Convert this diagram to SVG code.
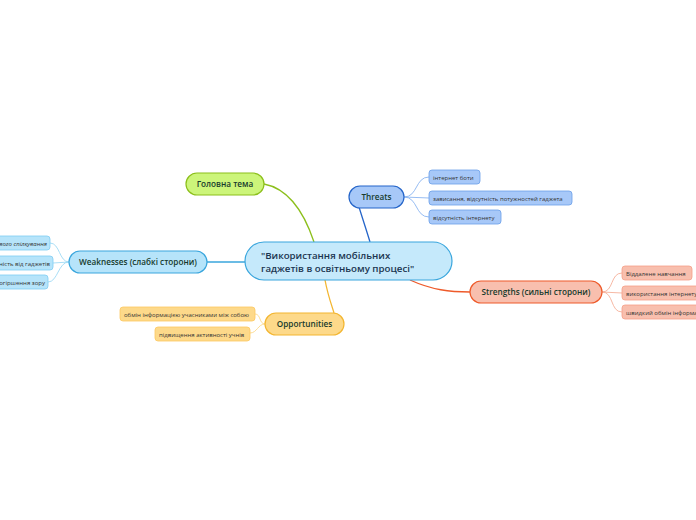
<svg xmlns="http://www.w3.org/2000/svg" width="696" height="520" viewBox="0 0 696 520">
<style>
text{font-family:"Open Sans","Noto Sans","DejaVu Sans",sans-serif}
.main{font-size:9.7px;font-weight:600;fill:#1b3550}
.br{font-size:8.2px;font-weight:600;fill:#163a2c;text-anchor:middle}
.ch{font-size:6px;fill:#333}
.c{fill:none;stroke-width:1.3}
.cs{fill:none;stroke-width:0.9}
</style>
<rect width="696" height="520" fill="#ffffff"/>
<g id="connectors">
<path class="c" stroke="#8cbf1b" d="M264,184 C290,189 305,215 314,242"/>
<path class="c" stroke="#2565c9" d="M359,207 C363,220 367,232 370,242"/>
<path class="c" stroke="#ee5a2a" d="M410,280 C432,290 450,292 470,292"/>
<path class="c" stroke="#f3b631" d="M325,280 C328,296 332,306 334,313"/>
<path class="c" stroke="#3aa6dd" d="M245,262 L207,262"/>
<g stroke="#8ab4f0">
<path class="cs" d="M404,197 C418,197 415,177 429,177"/>
<path class="cs" d="M404,197 L429,198"/>
<path class="cs" d="M404,197 C418,197 415,217 429,217"/>
</g>
<g stroke="#f5b09a">
<path class="cs" d="M602,292 C614,292 610,273 622,273"/>
<path class="cs" d="M602,292 L622,293"/>
<path class="cs" d="M602,292 C614,292 610,312 622,312"/>
</g>
<g stroke="#fcd98a">
<path class="cs" d="M265,324 C259,324 261,314 255,314"/>
<path class="cs" d="M265,324 C258,324 257,333 250,333"/>
</g>
<g stroke="#9fdaf5">
<path class="cs" d="M69,262 C59,262 60,243 50,243"/>
<path class="cs" d="M69,262 L53,263"/>
<path class="cs" d="M69,262 C58,262 58,282 48,282"/>
</g>
</g>
<g id="central">
<rect x="245" y="242" width="207" height="38" rx="19" fill="#c5e9fb" stroke="#3aa6dd" stroke-width="1.2"/>
<text class="main" x="261" y="259">"Використання мобільних</text>
<text class="main" x="261" y="272">гаджетів в освітньому процесі"</text>
</g>
<g id="main-topic">
<rect x="186" y="173" width="78" height="22" rx="11" fill="#ccf57a" stroke="#8cbf1b" stroke-width="1.2"/>
<text class="br" x="225" y="187">Головна тема</text>
</g>
<g id="threats">
<rect x="349" y="186" width="55" height="22" rx="11" fill="#a7c8f8" stroke="#2565c9" stroke-width="1.2"/>
<text class="br" x="376.5" y="200">Threats</text>
</g>
<g id="threat-1">
<rect x="429" y="170" width="51" height="14" rx="3" fill="#a7c8f8" stroke="#6a9ee8" stroke-width="0.8"/>
<text class="ch" x="433" y="179.5">інтернет боти</text>
</g>
<g id="threat-2">
<rect x="429" y="191" width="143" height="14" rx="3" fill="#a7c8f8" stroke="#6a9ee8" stroke-width="0.8"/>
<text class="ch" x="433" y="200.5">зависання, відсутність потужностей гаджета</text>
</g>
<g id="threat-3">
<rect x="429" y="210" width="72" height="14" rx="3" fill="#a7c8f8" stroke="#6a9ee8" stroke-width="0.8"/>
<text class="ch" x="433" y="219.5">відсутність інтернету</text>
</g>
<g id="strengths">
<rect x="470" y="281" width="132" height="22" rx="11" fill="#f8bfae" stroke="#ee5a2a" stroke-width="1.2"/>
<text class="br" x="536" y="295">Strengths (сильні сторони)</text>
</g>
<g id="strength-1">
<rect x="622" y="266" width="70" height="14" rx="3" fill="#f8bfae" stroke="#f5a088" stroke-width="0.8"/>
<text class="ch" x="626" y="275.5">Віддалене навчання</text>
</g>
<g id="strength-2">
<rect x="622" y="286" width="90" height="14" rx="3" fill="#f8bfae" stroke="#f5a088" stroke-width="0.8"/>
<text class="ch" x="626" y="295.5">використання інтернету</text>
</g>
<g id="strength-3">
<rect x="622" y="305" width="100" height="14" rx="3" fill="#f8bfae" stroke="#f5a088" stroke-width="0.8"/>
<text class="ch" x="626" y="314.5">швидкий обмін інформацією</text>
</g>
<g id="opportunities">
<rect x="265" y="313" width="79" height="22" rx="11" fill="#fdd98a" stroke="#f3b631" stroke-width="1.2"/>
<text class="br" x="304.5" y="327">Opportunities</text>
</g>
<g id="opportunity-1">
<rect x="120" y="307" width="135" height="14" rx="3" fill="#fdd98a" stroke="#fcc860" stroke-width="0.8"/>
<text class="ch" x="124" y="316.5">обмін інформацією учасниками між собою</text>
</g>
<g id="opportunity-2">
<rect x="155" y="327" width="95" height="14" rx="3" fill="#fdd98a" stroke="#fcc860" stroke-width="0.8"/>
<text class="ch" x="159" y="336.5">підвищення активності учнів</text>
</g>
<g id="weaknesses">
<rect x="69" y="251" width="138" height="22" rx="11" fill="#b6e4fa" stroke="#3aa6dd" stroke-width="1.2"/>
<text class="br" x="138" y="265">Weaknesses (слабкі сторони)</text>
</g>
<g id="weakness-1">
<rect x="-60" y="236" width="110" height="14" rx="3" fill="#b6e4fa" stroke="#7fcdf2" stroke-width="0.8"/>
<text class="ch" x="47" y="245.5" text-anchor="end" font-style="italic">відсутність живого спілкування</text>
</g>
<g id="weakness-2">
<rect x="-40" y="256" width="93" height="14" rx="3" fill="#b6e4fa" stroke="#7fcdf2" stroke-width="0.8"/>
<text class="ch" x="50" y="265.5" text-anchor="end">залежність від гаджетів</text>
</g>
<g id="weakness-3">
<rect x="-30" y="275" width="78" height="14" rx="3" fill="#b6e4fa" stroke="#7fcdf2" stroke-width="0.8"/>
<text class="ch" x="45" y="284.5" text-anchor="end">погіршення зору</text>
</g>
</svg>
